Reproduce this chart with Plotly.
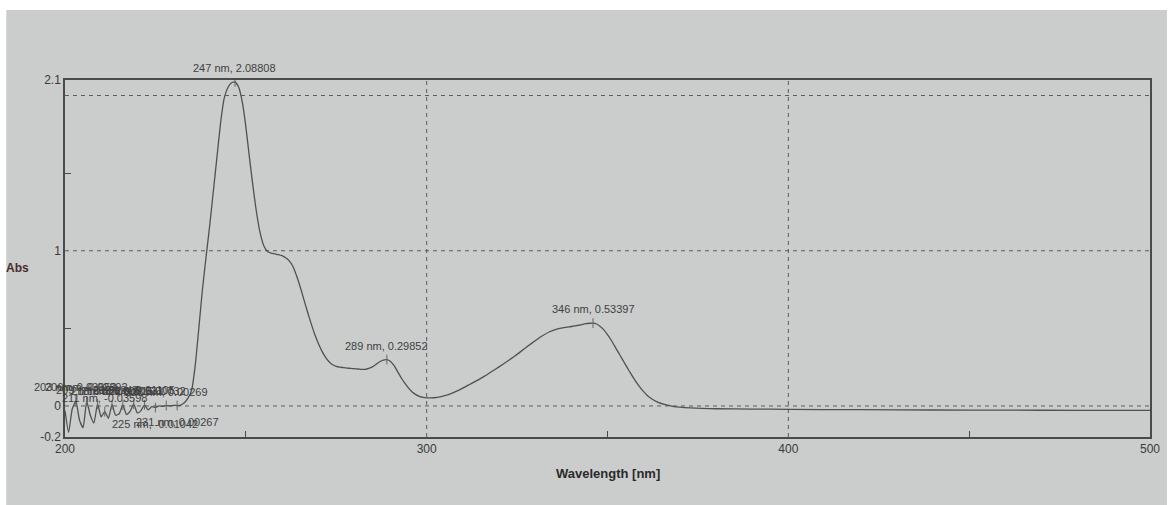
import plotly.graph_objects as go

# ---- data ----
wavelength = list(range(200, 301)) + list(range(302, 346, 2)) + list(range(345, 365)) + [366, 368, 370, 373, 376, 380, 390, 400, 420, 440, 460, 480, 500]
absorbance = (
    [-0.03, -0.17, -0.02, 0.03052, -0.09, -0.14, 0.02892, -0.06, -0.11, 0.01247,
     -0.07, -0.03598, -0.08, 0.00815, -0.06, -0.05, 0.00531, -0.055, -0.035, 0.01105,
     -0.045, -0.03, 0.00732, -0.025, -0.005, -0.01042, 0.001, -0.003, 0.00269, 0.0,
     0.004, 0.00267, 0.006, 0.02,
     0.05, 0.10, 0.26, 0.50, 0.75, 0.96, 1.16, 1.38, 1.60, 1.82,
     1.98, 2.05, 2.082, 2.08808, 2.055, 1.96, 1.80, 1.60, 1.41, 1.24,
     1.11, 1.03, 0.995, 0.985, 0.98, 0.975, 0.968, 0.955, 0.935, 0.90,
     0.84, 0.77, 0.69, 0.61, 0.535, 0.465, 0.405, 0.355, 0.315, 0.285,
     0.265, 0.255, 0.25, 0.247, 0.244, 0.242, 0.24, 0.238, 0.236, 0.236,
     0.242, 0.252, 0.268, 0.285, 0.296, 0.29852, 0.287, 0.26, 0.22, 0.18,
     0.145, 0.115, 0.09, 0.073, 0.062, 0.055, 0.052]
    + [0.053, 0.06, 0.073, 0.092, 0.115, 0.14, 0.165, 0.192, 0.222, 0.252,
       0.283, 0.315, 0.35, 0.386, 0.42, 0.452, 0.478, 0.495, 0.505, 0.512,
       0.52, 0.53]
    + [0.533, 0.53397, 0.528, 0.512, 0.49, 0.46, 0.425, 0.385, 0.345, 0.305,
       0.265, 0.225, 0.188, 0.152, 0.12, 0.092, 0.068, 0.05, 0.035, 0.023]
    + [0.008, -0.002, -0.008, -0.013, -0.016, -0.018, -0.02, -0.022, -0.024, -0.026, -0.027, -0.028, -0.029]
)

peak_labels_nm = [203, 206, 209, 213, 216, 219, 222, 228, 211, 247, 289, 346]
valley_labels_nm = [225, 231]

x_tick_vals = [200, 300, 400, 500]
x_minor_vals = [250, 350, 450]
y_tick_vals = [-0.2, 0, 1, 2.1]
y_tick_text = ["-0.2", "0", "1", "2.1"]
y_minor_vals = [0.5, 1.5]
x_grid_vals = [300, 400]
y_grid_vals = [0, 1, 2]

lookup = dict(zip(wavelength, absorbance))

BG = "#cbcdcd"
INK = "#3a3a3a"
LINE = "#505050"

W, H = 1172, 505
ml, mr, mt, mb = 65, 17, 80, 68
pw, ph = W - ml - mr, H - mt - mb

fig = go.Figure()
fig.add_trace(go.Scatter(x=wavelength, y=absorbance, mode="lines",
                         line=dict(color=LINE, width=1.3, shape="spline", smoothing=0.5),
                         hoverinfo="skip", showlegend=False))

all_lab = peak_labels_nm + valley_labels_nm
fig.add_trace(go.Scatter(x=all_lab, y=[lookup[n] for n in all_lab], mode="markers",
                         marker=dict(symbol="line-ns-open", size=7, color="#666666",
                                     line=dict(color="#666666", width=1)),
                         hoverinfo="skip", showlegend=False))

label_font = dict(size=11, color="#404040", family="Liberation Sans, Arial")
annotations = []
for n in peak_labels_nm:
    annotations.append(dict(x=n, y=lookup[n], xref="x", yref="y", text=f"{n} nm, {lookup[n]:.5f}",
                            showarrow=False, yanchor="bottom", yshift=6, font=label_font))
for n in valley_labels_nm:
    annotations.append(dict(x=n, y=lookup[n], xref="x", yref="y", text=f"{n} nm, {lookup[n]:.5f}",
                            showarrow=False, yanchor="top", yshift=-8, font=label_font))

annotations.append(dict(x=(4 - ml) / pw, y=(H - 268 - mb) / ph, xref="paper", yref="paper",
                        text="<b>Abs</b>", showarrow=False, xanchor="left", yanchor="middle",
                        font=dict(size=12, color="#4a2c2c", family="Liberation Sans, Arial")))
annotations.append(dict(x=0.5, y=(H - 473 - mb) / ph, xref="paper", yref="paper",
                        text="<b>Wavelength [nm]</b>", showarrow=False, xanchor="center", yanchor="middle",
                        font=dict(size=13, color="#2a2a2a", family="Liberation Sans, Arial")))

shapes = []
shapes.append(dict(type="rect", xref="paper", yref="paper", x0=(6 - ml) / pw, x1=(W - ml) / pw,
                   y0=(0 - mb) / ph, y1=(H - 10 - mb) / ph, fillcolor=BG, line=dict(width=0), layer="below"))
for gx in x_grid_vals:
    shapes.append(dict(type="line", xref="x", yref="paper", x0=gx, x1=gx, y0=0, y1=1,
                       line=dict(color="#5a5a5a", width=1, dash="4px,4px"), layer="below"))
for gy in y_grid_vals:
    shapes.append(dict(type="line", xref="paper", yref="y", x0=0, x1=1, y0=gy, y1=gy,
                       line=dict(color="#5a5a5a", width=1, dash="4px,4px"), layer="below"))

fig.update_layout(
    width=W, height=H,
    margin=dict(l=ml, r=mr, t=mt, b=mb),
    paper_bgcolor="white", plot_bgcolor="rgba(0,0,0,0)",
    font=dict(family="Liberation Sans, Arial", color=INK, size=12),
    annotations=annotations, shapes=shapes,
    xaxis=dict(range=[200, 500], tickvals=x_tick_vals, ticks="inside", ticklen=0,
               showgrid=False, zeroline=False, showline=True, linecolor="#4a4a4a", linewidth=1.5,
               mirror=True, tickfont=dict(size=12, color=INK),
               minor=dict(tickvals=x_minor_vals, ticks="inside", ticklen=6, tickcolor="#4a4a4a", showgrid=False)),
    yaxis=dict(range=[-0.2, 2.1], tickvals=y_tick_vals, ticktext=y_tick_text, ticks="inside", ticklen=0,
               showgrid=False, zeroline=False, showline=True, linecolor="#4a4a4a", linewidth=1.5,
               mirror=True, tickfont=dict(size=12, color=INK),
               minor=dict(tickvals=y_minor_vals, ticks="inside", ticklen=6, tickcolor="#4a4a4a", showgrid=False)),
)

fig.write_html("out.html")
